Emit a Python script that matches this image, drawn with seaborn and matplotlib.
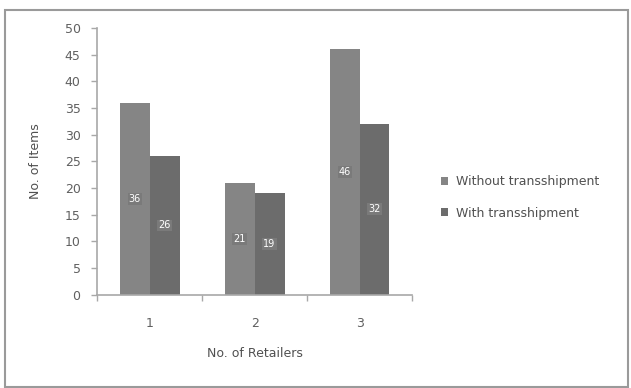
import matplotlib
matplotlib.use("Agg")
import matplotlib.pyplot as plt
import seaborn as sns
import pandas as pd
from matplotlib.patches import Rectangle

categories = ["1", "2", "3"]
without_trans = [36, 21, 46]
with_trans = [26, 19, 32]
series_names = ["Without transshipment", "With transshipment"]
yticks = [0, 5, 10, 15, 20, 25, 30, 35, 40, 45, 50]

df = pd.DataFrame({
    "Retailers": categories * 2,
    "Items": without_trans + with_trans,
    "Series": [series_names[0]] * 3 + [series_names[1]] * 3,
})

sns.set_style("white")
plt.rcParams['font.family'] = ['DejaVu Sans']

fig = plt.figure(figsize=(6.31, 3.88), dpi=100)
fig.patch.set_facecolor("white")
ax = fig.add_axes([0.154, 0.240, 0.499, 0.688])

palette = ["#858585", "#6c6c6c"]
sns.barplot(data=df, x="Retailers", y="Items", hue="Series", palette=palette,
            width=0.57, ax=ax, saturation=1, legend=True, linewidth=0,
            edgecolor="none")

for cont in ax.containers:
    labels = [f"{v:.0f}" for v in cont.datavalues]
    for bar, lab in zip(cont, labels):
        ax.text(bar.get_x() + bar.get_width() / 2, bar.get_height() / 2, lab,
                ha="center", va="center", fontsize=7, color="white",
                bbox=dict(boxstyle="square,pad=0.1", fc="#7a7a7a", ec="none"))

ax.set_ylim(0, 50)
ax.set_xlim(-0.5, 2.5)
ax.set_ylabel("No. of Items", fontsize=9, color="#505050", labelpad=16)
ax.set_xlabel("No. of Retailers", fontsize=9, color="#505050", labelpad=12)

for s in ["top", "right"]:
    ax.spines[s].set_visible(False)
for s in ["left", "bottom"]:
    ax.spines[s].set_color("#a8a8a8")
    ax.spines[s].set_linewidth(1.2)

ax.set_xticks([0, 1, 2])
ax.set_xticks([-0.5, 0.5, 1.5, 2.5], minor=True)
ax.xaxis.set_tick_params(which="major", length=0, labelsize=9,
                         labelcolor="#606060", pad=16)
ax.xaxis.set_tick_params(which="minor", bottom=True, length=4, width=1,
                         color="#a8a8a8", direction="out")

ax.yaxis.remove_overlapping_locs = False
ax.set_yticks(yticks)
ax.set_yticks(yticks, minor=True)
ax.yaxis.set_tick_params(which="major", length=0, labelsize=9,
                         labelcolor="#606060", pad=12)
ax.yaxis.set_tick_params(which="minor", left=True, length=4, width=1,
                         color="#a8a8a8", direction="out")

leg = ax.legend(loc="center left", bbox_to_anchor=(1.055, 0.365), frameon=False,
                fontsize=9, handlelength=0.6, handleheight=0.6, labelspacing=1.5,
                handletextpad=0.6)
for t in leg.get_texts():
    t.set_color("#505050")

fig.add_artist(Rectangle((0.008, 0.003), 0.987, 0.970, transform=fig.transFigure,
                         fill=False, ec="#9a9a9a", lw=1.5))

fig.savefig("out.png", dpi=100)
